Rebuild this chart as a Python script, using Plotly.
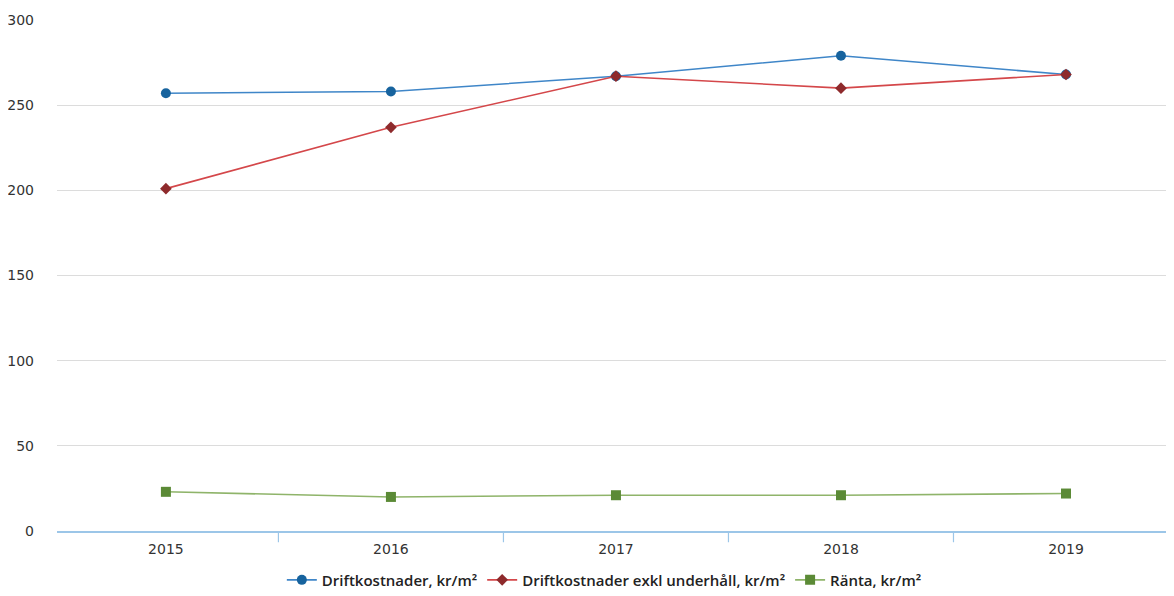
import plotly.graph_objects as go

years = ["2015", "2016", "2017", "2018", "2019"]
drift = [257, 258, 267, 279, 268]
drift_exkl = [201, 237, 267, 260, 268]
ranta = [23, 20, 21, 21, 22]

x = list(range(len(years)))

fig = go.Figure()
fig.add_trace(go.Scatter(
    x=x, y=drift, mode="lines+markers", name="Driftkostnader, kr/m²",
    line=dict(color="#3f86c8", width=1.6),
    marker=dict(symbol="circle", size=10, color="#17639e"),
))
fig.add_trace(go.Scatter(
    x=x, y=drift_exkl, mode="lines+markers", name="Driftkostnader exkl underhåll, kr/m²",
    line=dict(color="#d4474a", width=1.6),
    marker=dict(symbol="diamond", size=9, color="#8e2a2c"),
))
fig.add_trace(go.Scatter(
    x=x, y=ranta, mode="lines+markers", name="Ränta, kr/m²",
    line=dict(color="#8fb46a", width=1.6),
    marker=dict(symbol="square", size=10, color="#5b8a36"),
))

fig.update_layout(
    width=1166, height=588,
    margin=dict(l=49, r=0, t=12, b=65, autoexpand=False),
    paper_bgcolor="white", plot_bgcolor="white",
    font=dict(family="DejaVu Sans, Verdana, sans-serif", size=13, color="#333333"),
    showlegend=True,
    legend=dict(
        orientation="h", x=0.49, xanchor="center",
        yref="container", y=0.027, yanchor="middle",
        font=dict(family="Open Sans, sans-serif", size=15, color="#222222", weight=600),
        itemwidth=30, tracegroupgap=0,
    ),
)
fig.update_xaxes(
    range=[-0.484, 4.48],
    tickmode="array", tickvals=x, ticktext=years,
    showgrid=False, zeroline=False, automargin=False,
    showline=True, linecolor="#9cc6e8", linewidth=1.5,
    ticks="", ticklabelstandoff=4, tickfont=dict(size=14, color="#333333"),
)
# category boundary tick marks
for b in [-0.5, 0.5, 1.5, 2.5, 3.5]:
    fig.add_shape(type="line", xref="x", yref="paper", x0=b, x1=b, y0=0, y1=-0.022,
                  line=dict(color="#9cc6e8", width=1.2))
fig.update_yaxes(
    range=[0, 300], tickvals=[0, 50, 100, 150, 200, 250, 300],
    showgrid=True, gridcolor="#dcdcdc", gridwidth=1,
    zeroline=False, showline=False, ticks="", automargin=False,
    tickfont=dict(size=14, color="#333333"), ticklabelstandoff=22,
)

fig.write_html("out.html")
